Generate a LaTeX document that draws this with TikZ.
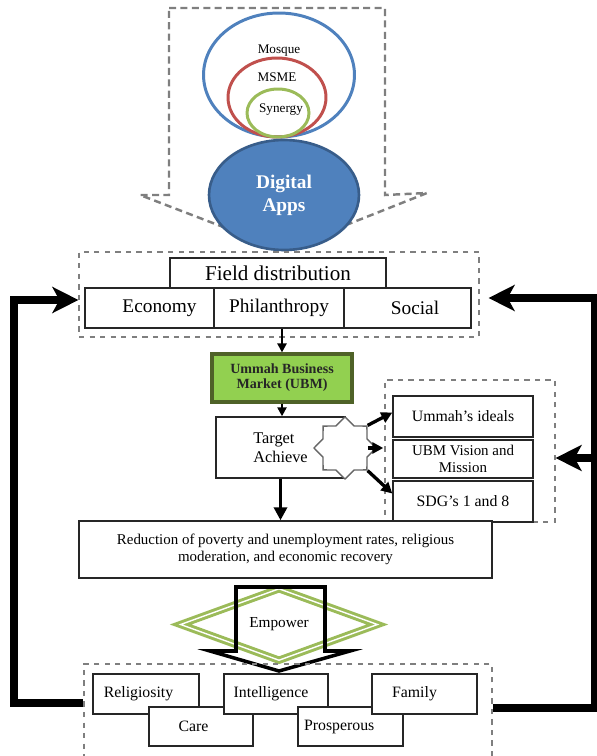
\documentclass[tikz,border=0pt]{standalone}
\usepackage{fontspec}
\setmainfont{Liberation Serif}
\usetikzlibrary{positioning,shapes.geometric,arrows.meta}

\definecolor{appblue}{HTML}{4F81BD}
\definecolor{appedge}{HTML}{385D8A}
\definecolor{msmered}{HTML}{C0504D}
\definecolor{leafgreen}{HTML}{9BBB59}
\definecolor{ubmfill}{HTML}{92D050}
\definecolor{ubmedge}{HTML}{4F6228}
\definecolor{dashgray}{HTML}{7F7F7F}

\begin{document}
\begin{tikzpicture}[x=0.02cm, y=-0.02cm,
  zone/.style = {draw=dashgray, dashed, line width=0.7pt, inner sep=0},
  cell/.style = {draw=black!85, fill=white, line width=0.8pt, inner sep=1pt, align=center, font=\fontsize{9}{10.5}\selectfont},
  ring/.style = {ellipse, draw, line width=1.7pt, inner sep=0, font=\fontsize{7.5}{8}\selectfont},
  link/.style = {-{Triangle[length=0.18cm,width=0.18cm]}, line width=1.3pt},
  back/.style = {-{Stealth[length=0.52cm,width=0.52cm,inset=0.14cm]}, line width=4pt}]
    \clip (0,0) rectangle (597,756);

    % apps on top
    \draw[dashgray, line width=1.4pt, dash pattern=on 4pt off 2.5pt] (169,8) -- (385,8) -- (385,195) -- (427,193) -- (283,250) -- (140,195) -- (169,195) -- cycle;
    \node[ring, draw=appblue, minimum width=3.02cm, minimum height=2.48cm, label={[below=0.54cm, font=\fontsize{7.5}{8}\selectfont]north:Mosque}] (mosque) at (279,75) {};
    \node[ring, draw=msmered, minimum width=1.96cm, minimum height=1.58cm, label={[below=0.2cm, font=\fontsize{7.5}{8}\selectfont]north:MSME}] (msme) at (277,97.5) {};
    \node[ring, draw=leafgreen, minimum width=1.24cm, minimum height=0.96cm, label={[below=0.2cm, xshift=0.06cm, font=\fontsize{7.5}{8}\selectfont]north:Synergy}] (synergy) at (278,113) {};
    \node[ellipse, draw=appedge, fill=appblue, line width=1.5pt, minimum width=3cm, minimum height=2.2cm, inner sep=0, text=white, align=center, font=\bfseries\fontsize{11}{13}\selectfont] (apps) at (284,195) {Digital\\Apps};

    % field distribution
    \node[zone, minimum width=8cm, minimum height=1.7cm] (fielddash) at (279,294.5) {};
    \node[cell, minimum width=4.32cm, minimum height=0.6cm, font=\fontsize{12}{13}\selectfont] (fieldbox) at (278,273) {Field distribution};
    \node[cell, minimum width=2.58cm, minimum height=0.8cm, font=\fontsize{11}{12}\selectfont] (economy) at (149.5,308) {\hspace{0.4cm}Economy};
    \node[cell, minimum width=2.6cm, minimum height=0.8cm, font=\fontsize{11}{12}\selectfont] (philanthropy) at (279,308) {Philanthropy};
    \node[cell, minimum width=2.54cm, minimum height=0.8cm, font=\fontsize{11}{12}\selectfont] (social) at (407.5,308) {\hspace{0.3cm}Social};

    % market and targets
    \node[cell, fill=ubmfill, draw=ubmedge, line width=1.8pt, minimum width=2.8cm, minimum height=0.96cm, text=black!85, font=\bfseries\fontsize{8}{8.5}\selectfont] (ubm) at (282,378) {Ummah Business\\Market (UBM)};
    \node[cell, minimum width=2.58cm, minimum height=1.22cm, align=left, font=\fontsize{9.3}{10.8}\selectfont] (target) at (280.5,447.5) {Target\hspace{0.25cm}\\ Achieve};
    \node[star, star points=8, star point ratio=1.3, draw=black!60, fill=white, line width=0.8pt, minimum size=1.24cm, inner sep=0] (hub) at (345,448) {};
    \node[zone, minimum width=3.4cm, minimum height=2.84cm] (rightdash) at (470,451) {};
    \node[cell, minimum width=2.8cm, minimum height=0.82cm] (ideals) at (463,416.5) {Ummah's ideals};
    \node[cell, minimum width=2.8cm, minimum height=0.76cm, font=\fontsize{8.5}{9.6}\selectfont] (vision) at (463,459) {UBM Vision and\\ Mission};
    \node[cell, minimum width=2.8cm, minimum height=0.82cm] (sdg) at (463,501.5) {SDG’s 1 and 8};
    \node[cell, minimum width=8.26cm, minimum height=1.14cm, font=\fontsize{8.5}{9.6}\selectfont] (reduction) at (285.5,549.5) {Reduction of poverty and unemployment rates, religious\\ moderation, and economic recovery};

    % empower
    \node[diamond, draw=leafgreen, double=white, line width=1.7pt, double distance=0.8pt, minimum width=3.96cm, minimum height=1.34cm, inner sep=0, font=\fontsize{8.7}{9}\selectfont] (empower) at (279,624.5) {Empower};
    \draw[line width=2pt, line join=miter] (236,587) -- (325,587) -- (325,651) -- (350,651) -- (279,671) -- (210,651) -- (236,651) -- cycle;

    % results
    \node[zone, minimum width=8.16cm, minimum height=2.12cm] (bottomdash) at (288,717) {};
    \node[cell, minimum width=2.12cm, minimum height=0.8cm] (religiosity) at (146,694) {Religiosity\hspace{0.3cm}};
    \node[cell, minimum width=2.08cm, minimum height=0.78cm] (care) at (201,726.5) {Care\hspace{0.3cm}};
    \node[cell, minimum width=2.08cm, minimum height=0.8cm] (intelligence) at (276,694) {Intelligence\hspace{0.2cm}};
    \node[cell, minimum width=2.1cm, minimum height=0.78cm] (prosperous) at (350.5,726.5) {Prosperous\hspace{0.45cm}};
    \node[cell, minimum width=2.1cm, minimum height=0.8cm] (family) at (424.5,694) {Family\hspace{0.4cm}};

    % connectors
    \draw[link] (ubm.north |- philanthropy.south) -- (ubm.north);
    \draw[link] (ubm.south) -- (ubm.south |- target.north);
    \draw[-{Triangle[length=0.26cm,width=0.26cm]}, line width=2.2pt] (target.south) -- (target.south |- reduction.north);
    \draw[-{Triangle[length=0.22cm,width=0.22cm]}, line width=1.9pt] (hub.45) -- ([yshift=0.08cm]ideals.west);
    \draw[-{Triangle[length=0.22cm,width=0.22cm]}, line width=1.9pt] ([xshift=-0.18cm]hub.east) -- ([xshift=-0.18cm]hub.east -| vision.west);
    \draw[-{Triangle[length=0.22cm,width=0.22cm]}, line width=1.9pt] (hub.-45) -- ([yshift=0.16cm]sdg.west);

    % feedback loops
    \coordinate (lowleft) at (14,703);
    \coordinate (upleft) at (14,300);
    \coordinate (lowright) at (594.5,708);
    \coordinate (upright) at (594.5,298);
    \coordinate (midright) at (594.5,458);
    \draw[back] (lowleft -| bottomdash.west) -- (lowleft) -- (upleft) -- (upleft -| fielddash.west);
    \draw[back, shorten >=0.18cm] (lowright -| bottomdash.east) -- (lowright) -- (upright) -- (upright -| fielddash.east);
    \draw[back] (midright) -- (midright -| rightdash.east);
\end{tikzpicture}
\end{document}
